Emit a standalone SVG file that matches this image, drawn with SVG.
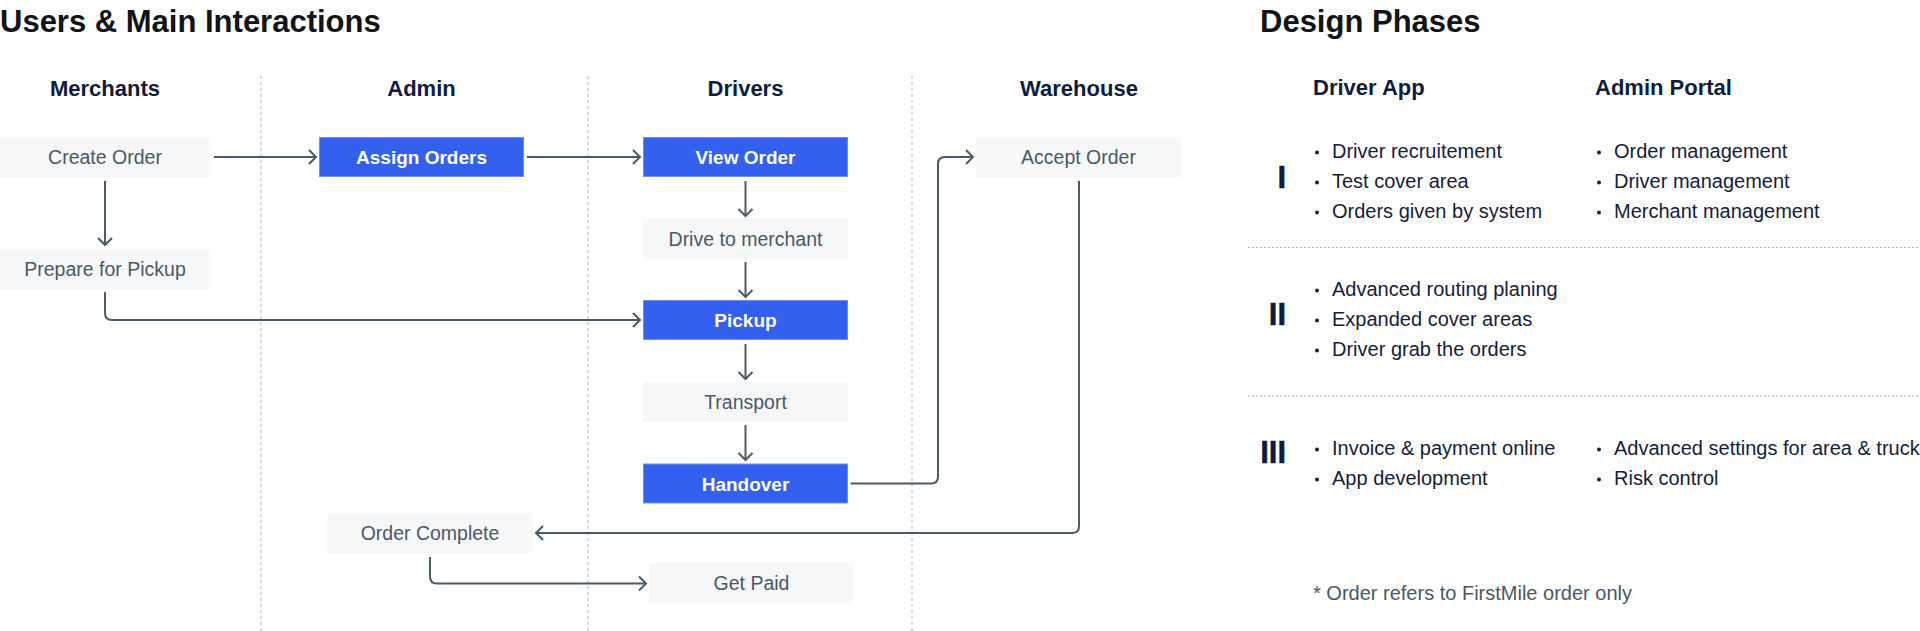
<svg xmlns="http://www.w3.org/2000/svg" width="1920" height="631" viewBox="0 0 1920 631">
<style>
.title{font-family:"Liberation Sans",Arial,sans-serif;font-weight:bold;font-size:31px;fill:#111417}
.hdr{font-family:"Liberation Sans",Arial,sans-serif;font-weight:bold;font-size:22px;fill:#0E1C3F;text-anchor:middle}
.gbox{fill:#F6F8FA}
.bbox{fill:#3360EE;stroke:#6E8DF3;stroke-width:1}
.gtxt{font-family:"Liberation Sans",Arial,sans-serif;font-size:19.5px;fill:#4A5965;text-anchor:middle}
.btxt{font-family:"Liberation Sans",Arial,sans-serif;font-weight:bold;font-size:19px;fill:#FFFFFF;text-anchor:middle}
.sep{stroke:#A9B5BF;stroke-width:1;stroke-dasharray:3 3;fill:none}
.dot{stroke:#A9B5BF;stroke-width:1.2;stroke-dasharray:2 2;fill:none}
.conn{fill:none;stroke:#4B5B67;stroke-width:2}
.item{font-family:"Liberation Sans",Arial,sans-serif;font-size:20px;fill:#14213D}
.num{font-family:"Liberation Sans",Arial,sans-serif;font-weight:bold;font-size:31px;fill:#0E1C3F;stroke:#0E1C3F;stroke-width:0.5;text-anchor:end}
.bul{fill:#14213D}
.note{font-family:"Liberation Sans",Arial,sans-serif;font-size:20px;fill:#4A5965}
</style>
<defs>
<marker id="ah" viewBox="-10 -10 20 20" markerWidth="20" markerHeight="20" refX="0" refY="0" orient="auto" markerUnits="userSpaceOnUse">
<path d="M-7,-7 L0,0 L-7,7" fill="none" stroke="#4B5B67" stroke-width="2"/>
</marker>
</defs>
<rect width="1920" height="631" fill="#FFFFFF"/>

<text class="title" x="0" y="32">Users &amp; Main Interactions</text>
<text class="title" x="1260" y="32">Design Phases</text>

<g id="lanes">
<line class="sep" x1="261" y1="76" x2="261" y2="631"/>
<line class="sep" x1="588" y1="76" x2="588" y2="631"/>
<line class="sep" x1="912" y1="76" x2="912" y2="631"/>
<text class="hdr" x="105" y="96">Merchants</text>
<text class="hdr" x="421.5" y="96">Admin</text>
<text class="hdr" x="745.5" y="96">Drivers</text>
<text class="hdr" x="1079" y="96">Warehouse</text>
</g>

<g id="connectors">
<path class="conn" d="M214,157 H316" marker-end="url(#ah)"/>
<path class="conn" d="M527,157 H640" marker-end="url(#ah)"/>
<path class="conn" d="M105,181 V245" marker-end="url(#ah)"/>
<path class="conn" d="M105,292 V313 Q105,320 112,320 H640" marker-end="url(#ah)"/>
<path class="conn" d="M745.5,181 V216" marker-end="url(#ah)"/>
<path class="conn" d="M745.5,262 V297" marker-end="url(#ah)"/>
<path class="conn" d="M745.5,344 V379" marker-end="url(#ah)"/>
<path class="conn" d="M745.5,425 V460" marker-end="url(#ah)"/>
<path class="conn" d="M850.5,483.5 H931 Q938,483.5 938,476.5 V164 Q938,157 945,157 H973" marker-end="url(#ah)"/>
<path class="conn" d="M1079,181 V526 Q1079,533 1072,533 H536" marker-end="url(#ah)"/>
<path class="conn" d="M430,557 V576.5 Q430,583.5 437,583.5 H646" marker-end="url(#ah)"/>
</g>

<g id="create-order"><rect class="gbox" x="0" y="137" width="210" height="40"/><text class="gtxt" x="105" y="164">Create Order</text></g>
<g id="prepare-for-pickup"><rect class="gbox" x="0" y="249" width="210" height="40"/><text class="gtxt" x="105" y="276">Prepare for Pickup</text></g>
<g id="assign-orders"><rect class="bbox" x="319.5" y="137.5" width="204" height="39"/><text class="btxt" x="421.5" y="164">Assign Orders</text></g>
<g id="view-order"><rect class="bbox" x="643.5" y="137.5" width="204" height="39"/><text class="btxt" x="745.5" y="164">View Order</text></g>
<g id="drive-to-merchant"><rect class="gbox" x="643" y="219" width="205" height="40"/><text class="gtxt" x="745.5" y="246">Drive to merchant</text></g>
<g id="pickup"><rect class="bbox" x="643.5" y="300.5" width="204" height="39"/><text class="btxt" x="745.5" y="327">Pickup</text></g>
<g id="transport"><rect class="gbox" x="643" y="382" width="205" height="40"/><text class="gtxt" x="745.5" y="409">Transport</text></g>
<g id="handover"><rect class="bbox" x="643.5" y="464" width="204" height="39"/><text class="btxt" x="745.5" y="490.5">Handover</text></g>
<g id="accept-order"><rect class="gbox" x="976" y="137" width="205" height="40"/><text class="gtxt" x="1078.5" y="164">Accept Order</text></g>
<g id="order-complete"><rect class="gbox" x="327.5" y="513" width="205" height="40"/><text class="gtxt" x="430" y="540">Order Complete</text></g>
<g id="get-paid"><rect class="gbox" x="649" y="563" width="205" height="40"/><text class="gtxt" x="751.5" y="590">Get Paid</text></g>

<g id="design-phases">
<text class="hdr" x="1313" y="95" style="text-anchor:start">Driver App</text>
<text class="hdr" x="1595" y="95" style="text-anchor:start">Admin Portal</text>
<line class="dot" x1="1248" y1="247.5" x2="1920" y2="247.5"/>
<line class="dot" x1="1248" y1="396" x2="1920" y2="396"/>
</g>

<g id="phase-1">
<text class="num" x="1286" y="188">I</text>
<circle class="bul" cx="1317" cy="152.5" r="2"/><text class="item" x="1332" y="158">Driver recruitement</text>
<circle class="bul" cx="1317" cy="182.5" r="2"/><text class="item" x="1332" y="188">Test cover area</text>
<circle class="bul" cx="1317" cy="212.5" r="2"/><text class="item" x="1332" y="218">Orders given by system</text>
<circle class="bul" cx="1599" cy="152.5" r="2"/><text class="item" x="1614" y="158">Order management</text>
<circle class="bul" cx="1599" cy="182.5" r="2"/><text class="item" x="1614" y="188">Driver management</text>
<circle class="bul" cx="1599" cy="212.5" r="2"/><text class="item" x="1614" y="218">Merchant management</text>
</g>

<g id="phase-2">
<text class="num" x="1286" y="325">II</text>
<circle class="bul" cx="1317" cy="290.5" r="2"/><text class="item" x="1332" y="296">Advanced routing planing</text>
<circle class="bul" cx="1317" cy="320.5" r="2"/><text class="item" x="1332" y="326">Expanded cover areas</text>
<circle class="bul" cx="1317" cy="350.5" r="2"/><text class="item" x="1332" y="356">Driver grab the orders</text>
</g>

<g id="phase-3">
<text class="num" x="1286" y="463">III</text>
<circle class="bul" cx="1317" cy="449.5" r="2"/><text class="item" x="1332" y="455">Invoice &amp; payment online</text>
<circle class="bul" cx="1317" cy="479.5" r="2"/><text class="item" x="1332" y="485">App development</text>
<circle class="bul" cx="1599" cy="449.5" r="2"/><text class="item" x="1614" y="455">Advanced settings for area &amp; truck</text>
<circle class="bul" cx="1599" cy="479.5" r="2"/><text class="item" x="1614" y="485">Risk control</text>
</g>

<text class="note" x="1313" y="600">* Order refers to FirstMile order only</text>
</svg>
